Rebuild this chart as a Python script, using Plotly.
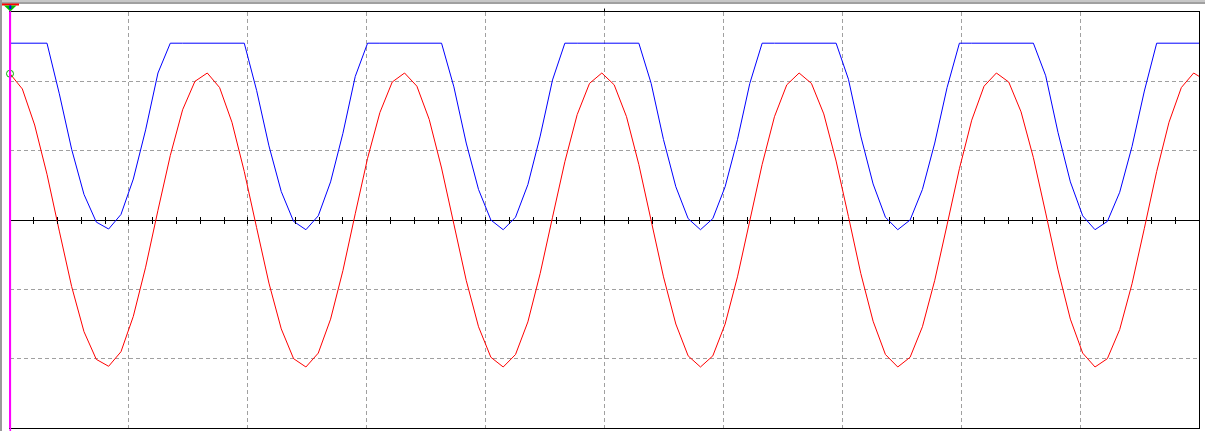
import plotly.graph_objects as go

# ---- data (units = screen divisions) ----
sample_index = list(range(98))
dt_div = 0.1037  # time between samples, in horizontal divisions

ch_red = [
    2.11, 1.89, 1.37, 0.66, -0.16, -0.96, -1.61, -2.01, -2.11, -1.90, -1.39, -0.68, 0.14, 0.93, 1.59, 2.00,
    2.12, 1.91, 1.41, 0.70, -0.11, -0.91, -1.57, -2.00, -2.12, -1.92, -1.43, -0.73, 0.09, 0.89, 1.55, 1.99,
    2.12, 1.93, 1.45, 0.75, -0.06, -0.87, -1.54, -1.98, -2.12, -1.94, -1.47, -0.77, 0.04, 0.84, 1.52, 1.97,
    2.12, 1.95, 1.49, 0.80, -0.01, -0.82, -1.50, -1.96, -2.12, -1.96, -1.50, -0.82, -0.01, 0.80, 1.49, 1.95,
    2.12, 1.97, 1.53, 0.85, 0.05, -0.77, -1.46, -1.94, -2.12, -1.98, -1.54, -0.87, -0.07, 0.74, 1.44, 1.93,
    2.12, 1.99, 1.56, 0.90, 0.10, -0.72, -1.43, -1.92, -2.12, -2.00, -1.58, -0.92, -0.12, 0.70, 1.41, 1.91,
    2.12, 2.01,
]
ch_blue = [
    2.55, 2.55, 2.55, 2.55, 1.82, 1.02, 0.37, -0.03, -0.13, 0.08, 0.59, 1.30, 2.12, 2.55, 2.55, 2.55,
    2.55, 2.55, 2.55, 2.55, 1.87, 1.07, 0.41, -0.02, -0.14, 0.06, 0.55, 1.25, 2.07, 2.55, 2.55, 2.55,
    2.55, 2.55, 2.55, 2.55, 1.92, 1.11, 0.44, 0.00, -0.14, 0.04, 0.51, 1.21, 2.02, 2.55, 2.55, 2.55,
    2.55, 2.55, 2.55, 2.55, 1.97, 1.16, 0.48, 0.02, -0.14, 0.02, 0.48, 1.16, 1.97, 2.55, 2.55, 2.55,
    2.55, 2.55, 2.55, 2.55, 2.03, 1.21, 0.52, 0.04, -0.14, 0.00, 0.44, 1.11, 1.91, 2.55, 2.55, 2.55,
    2.55, 2.55, 2.55, 2.55, 2.08, 1.26, 0.55, 0.06, -0.14, -0.02, 0.40, 1.06, 1.86, 2.55, 2.55, 2.55,
    2.55, 2.55,
]
time_div = [i * dt_div for i in sample_index]

# ---- layout geometry ----
W, H = 1205, 431
ML, MR, MT, MB = 10, 6, 12, 3
PW, PH = W - ML - MR, H - MT - MB


def px_x(px):
    return (px - ML) / PW


def px_y(py):
    return (H - MB - py) / PH


fig = go.Figure()

fig.add_trace(go.Scatter(x=time_div, y=ch_blue, mode="lines",
                         line=dict(color="#0000ff", width=1), hoverinfo="skip", showlegend=False))
fig.add_trace(go.Scatter(x=time_div, y=ch_red, mode="lines",
                         line=dict(color="#ff0000", width=1), hoverinfo="skip", showlegend=False))
fig.add_trace(go.Scatter(x=[time_div[0]], y=[ch_red[0]], mode="markers", cliponaxis=False,
                         marker=dict(symbol="circle-open", size=7, color="#00b000", line=dict(width=1)),
                         hoverinfo="skip", showlegend=False))
# dummy traces so the extra axes are drawn
fig.add_trace(go.Scatter(x=[None], y=[None], xaxis="x2", showlegend=False, hoverinfo="skip"))
fig.add_trace(go.Scatter(x=[None], y=[None], xaxis="x3", showlegend=False, hoverinfo="skip"))
fig.add_trace(go.Scatter(x=[None], y=[None], yaxis="y2", showlegend=False, hoverinfo="skip"))

grid = dict(showgrid=True, gridcolor="#a0a0a0", gridwidth=1, griddash="4px,3px")

fig.update_layout(
    width=W, height=H, autosize=False,
    margin=dict(l=ML, r=MR, t=MT, b=MB, pad=0),
    paper_bgcolor="#ffffff", plot_bgcolor="#ffffff",
    showlegend=False,
    xaxis=dict(range=[0, 10], dtick=1, tick0=0, showticklabels=False, ticks="",
               zeroline=False, showline=True, linecolor="#000000", linewidth=1, mirror=True,
               fixedrange=True, **grid),
    yaxis=dict(range=[-3, 3], dtick=1, tick0=0, showticklabels=False, ticks="",
               zeroline=True, zerolinecolor="#000000", zerolinewidth=1,
               showline=True, linecolor="#ff00ff", linewidth=1, mirror=False,
               fixedrange=True, **grid),
    yaxis2=dict(range=[-3, 3], overlaying="y", side="right", showline=True, linecolor="#000000",
                linewidth=1, showgrid=False, zeroline=False, showticklabels=False, ticks="",
                fixedrange=True),
    xaxis2=dict(range=[0, 10], overlaying="x", anchor="free", position=0.5, side="bottom",
                dtick=0.2, tick0=0, ticks="outside", ticklen=3, tickcolor="#000000", tickwidth=1,
                showticklabels=False, showgrid=False, zeroline=False, showline=False, fixedrange=True),
    xaxis3=dict(range=[0, 10], overlaying="x", anchor="free", position=0.5, side="bottom",
                dtick=0.2, tick0=0, ticks="inside", ticklen=3, tickcolor="#000000", tickwidth=1,
                showticklabels=False, showgrid=False, zeroline=False, showline=False, fixedrange=True),
)

shapes = []
# window frame lines (gray) at top and left
shapes.append(dict(type="line", xref="paper", yref="paper", x0=px_x(0), x1=px_x(W), y0=px_y(1), y1=px_y(1),
                   line=dict(color="#b4b4b4", width=1.5), layer="above"))
shapes.append(dict(type="line", xref="paper", yref="paper", x0=px_x(0), x1=px_x(W), y0=px_y(3), y1=px_y(3),
                   line=dict(color="#808080", width=1.5), layer="above"))
shapes.append(dict(type="line", xref="paper", yref="paper", x0=px_x(1), x1=px_x(1), y0=px_y(0), y1=px_y(H),
                   line=dict(color="#9a9a9a", width=2), layer="above"))
# trigger marker at centre top
shapes.append(dict(type="line", xref="x", yref="paper", x0=5, x1=5, y0=px_y(MT), y1=px_y(MT - 3.5),
                   line=dict(color="#000000", width=1), layer="above"))
shapes.append(dict(type="line", xref="x", yref="y", x0=5, x1=5, y0=-0.06, y1=0.06,
                   line=dict(color="#000000", width=1), layer="above"))
# magenta cursor line over the full height
shapes.append(dict(type="line", xref="paper", yref="paper", x0=px_x(10.3), x1=px_x(10.3), y0=px_y(5),
                   y1=px_y(H), line=dict(color="#ff00ff", width=1.6), layer="above"))
# position marker (red bar + green triangle)
shapes.append(dict(type="rect", xref="paper", yref="paper", x0=px_x(2), x1=px_x(19), y0=px_y(5.5), y1=px_y(3.5),
                   fillcolor="#ff0000", line=dict(width=0), layer="above"))
shapes.append(dict(type="path", xref="paper", yref="paper",
                   path=f"M {px_x(4)},{px_y(5.5)} L {px_x(16.5)},{px_y(5.5)} L {px_x(10.3)},{px_y(11.5)} Z",
                   fillcolor="#00c000", line=dict(width=0), layer="above"))
shapes.append(dict(type="rect", xref="paper", yref="paper", x0=px_x(9.3), x1=px_x(11.3), y0=px_y(9), y1=px_y(5.5),
                   fillcolor="#0000ff", line=dict(width=0), layer="above"))
fig.update_layout(shapes=shapes)

fig.write_html("out.html", config={"displayModeBar": False},
               post_script="document.body.style.margin='0';document.body.style.overflow='hidden';")
